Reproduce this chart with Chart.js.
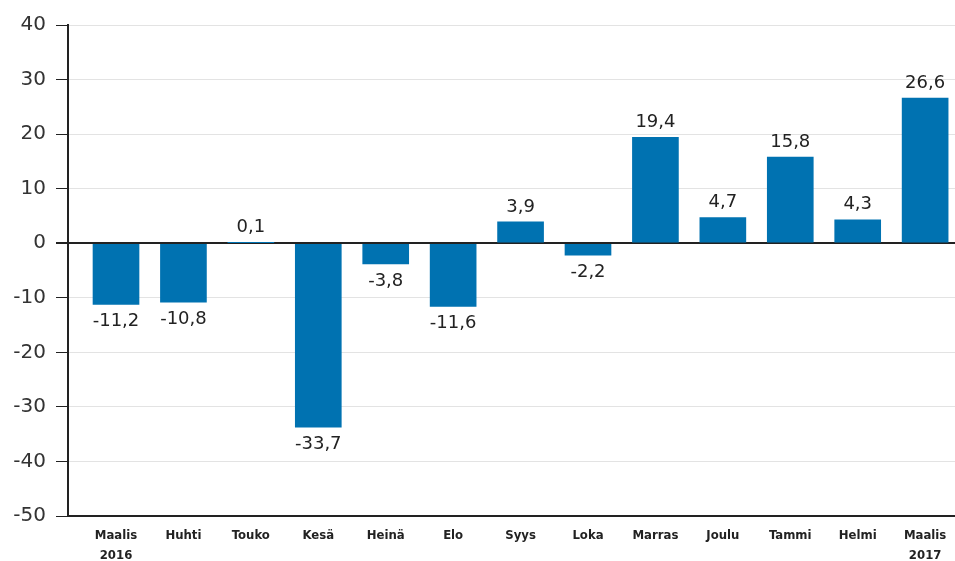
<!DOCTYPE html>
<html>
<head>
<meta charset="utf-8">
<script src="https://cdn.jsdelivr.net/npm/chart.js@4"></script>
<style>
  html, body { margin: 0; padding: 0; background: #fff; overflow: hidden; }
  #wrap { width: 955px; height: 561px; }
</style>
</head>
<body>
<div id="wrap"><canvas id="chart"></canvas></div>
<script>
const months = [['Maalis', '2016'], 'Huhti', 'Touko', 'Kesä', 'Heinä', 'Elo', 'Syys', 'Loka', 'Marras', 'Joulu', 'Tammi', 'Helmi', ['Maalis', '2017']];
const changes = [-11.2, -10.8, 0.1, -33.7, -3.8, -11.6, 3.9, -2.2, 19.4, 4.7, 15.8, 4.3, 26.6];
const yMin = -50;
const yMax = 40;
const yStep = 10;

const barColor = '#0072b1';

function fmt(v) {
    return v.toFixed(1).replace('.', ',');
}

// value labels above / below each bar
const valueLabels = {
    id: 'valueLabels',
    afterDatasetsDraw(chart) {
        const ctx = chart.ctx;
        const meta = chart.getDatasetMeta(0);
        ctx.save();
        ctx.font = '18px "DejaVu Sans"';
        ctx.fillStyle = '#222';
        ctx.textAlign = 'center';
        ctx.textBaseline = 'middle';
        meta.data.forEach((bar, i) => {
            const v = changes[i];
            const y = v >= 0 ? bar.y - 15 : bar.y + 17;
            ctx.fillText(fmt(v), bar.x, y);
        });
        ctx.restore();
    }
};

new Chart(document.getElementById('chart'), {
    type: 'bar',
    data: {
        datasets: [{
            data: changes.map((v, i) => ({ x: i, y: v })),
            backgroundColor: barColor,
            borderWidth: 0,
            barThickness: 46
        }]
    },
    options: {
        responsive: true,
        maintainAspectRatio: false,
        animation: false,
        layout: { padding: { top: 25, right: 0, left: 0, bottom: 0 } },
        plugins: {
            legend: { display: false },
            tooltip: { enabled: false }
        },
        scales: {
            x: {
                type: 'linear',
                offset: false,
                min: -0.712,
                max: 12.443,
                afterBuildTicks: (scale) => {
                    scale.ticks = months.map((_, i) => ({ value: i }));
                },
                afterFit: (scale) => { scale.height = 45; },
                grid: { display: false },
                border: { display: true, color: '#222', width: 2 },
                ticks: {
                    autoSkip: false,
                    maxRotation: 0,
                    padding: 2,
                    color: '#222',
                    font: { family: '"DejaVu Sans Condensed"', size: 13, weight: 'bold', lineHeight: 1.5 },
                    callback: (value) => months[value]
                }
            },
            y: {
                min: yMin,
                max: yMax,
                afterFit: (scale) => { scale.width = 68; },
                grid: {
                    color: (c) => c.tick && c.tick.value === 0 ? '#222' : '#e3e3e3',
                    lineWidth: (c) => c.tick && c.tick.value === 0 ? 2 : 1,
                    tickColor: '#222',
                    tickLength: 12
                },
                border: { display: true, color: '#222', width: 2 },
                ticks: {
                    stepSize: yStep,
                    padding: 10,
                    color: '#333',
                    font: { family: '"DejaVu Sans"', size: 20 }
                }
            }
        }
    },
    plugins: [valueLabels]
});
</script>
</body>
</html>
